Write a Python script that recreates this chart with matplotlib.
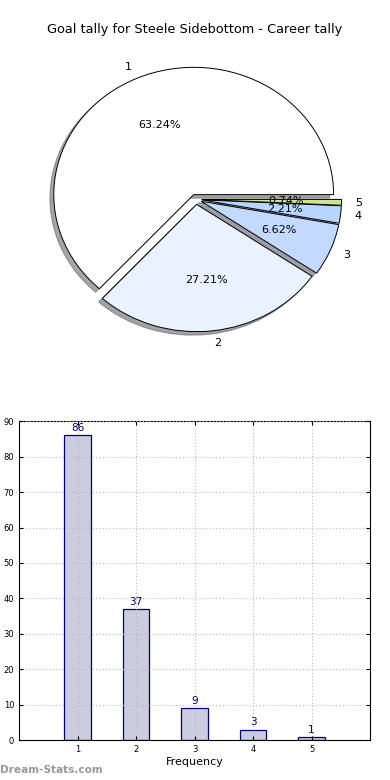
import numpy as np
import matplotlib
matplotlib.use("Agg")
from matplotlib import pyplot as plt

# goal tally data
labels = ["1", "2", "3", "4", "5"]
counts = [86, 37, 9, 3, 1]
sliceCols = ["#ffffff", "#eaf1ff", "#c4d9ff", "#b6d6ff", "#cde58f"]
barCol = "#ccccdf"
edgeCol = "#000080"

fig = plt.figure(figsize=(3.9, 7.8), dpi=100)
fig.text(0.5, 1 - 30 / 780, "Goal tally for Steele Sidebottom - Career tally",
         ha="center", va="center", fontsize=9.3)

# pie chart (elliptical, like old matplotlib)
axPie = fig.add_axes([0.054, 0.5405, 0.897, 0.408])
wedges, texts, autotexts = axPie.pie(counts, labels=labels, colors=sliceCols,
                                     explode=[0.04] * 5, shadow=True,
                                     autopct="%1.2f%%", pctdistance=0.6,
                                     labeldistance=1.1,
                                     wedgeprops={"edgecolor": "black", "linewidth": 0.7},
                                     textprops={"fontsize": 8})
axPie.set_aspect("auto")
axPie.set_xlim(-1.25, 1.25)
axPie.set_ylim(-1.25, 1.25)

# bar chart
axBar = fig.add_axes([0.049, 0.051, 0.9, 0.409])
xs = np.arange(1, len(counts) + 1)
bars = axBar.bar(xs, counts, width=0.45, color=barCol, edgecolor=edgeCol, linewidth=0.9)
for xv, cv in zip(xs, counts):
    axBar.text(xv, cv + 0.6, str(cv), ha="center", va="bottom", color=edgeCol, fontsize=7.5)
axBar.set_xlim(0, 6)
axBar.set_ylim(0, 90)
axBar.set_xticks(xs)
axBar.set_xticklabels(labels)
axBar.set_yticks(np.arange(0, 91, 10))
axBar.tick_params(labelsize=6, length=3, direction="in", top=True, right=True)
axBar.grid(True, linestyle=(0, (1, 2)), color="#b8b8b8", linewidth=0.8)
axBar.set_axisbelow(False)
axBar.set_xlabel("Frequency", fontsize=8, labelpad=2)

fig.text(0.0, 1 - 770 / 780, "Dream-Stats.com", ha="left", va="center",
         fontsize=7.6, color="#999999", fontweight="bold")

fig.savefig("out.png", dpi=100)
